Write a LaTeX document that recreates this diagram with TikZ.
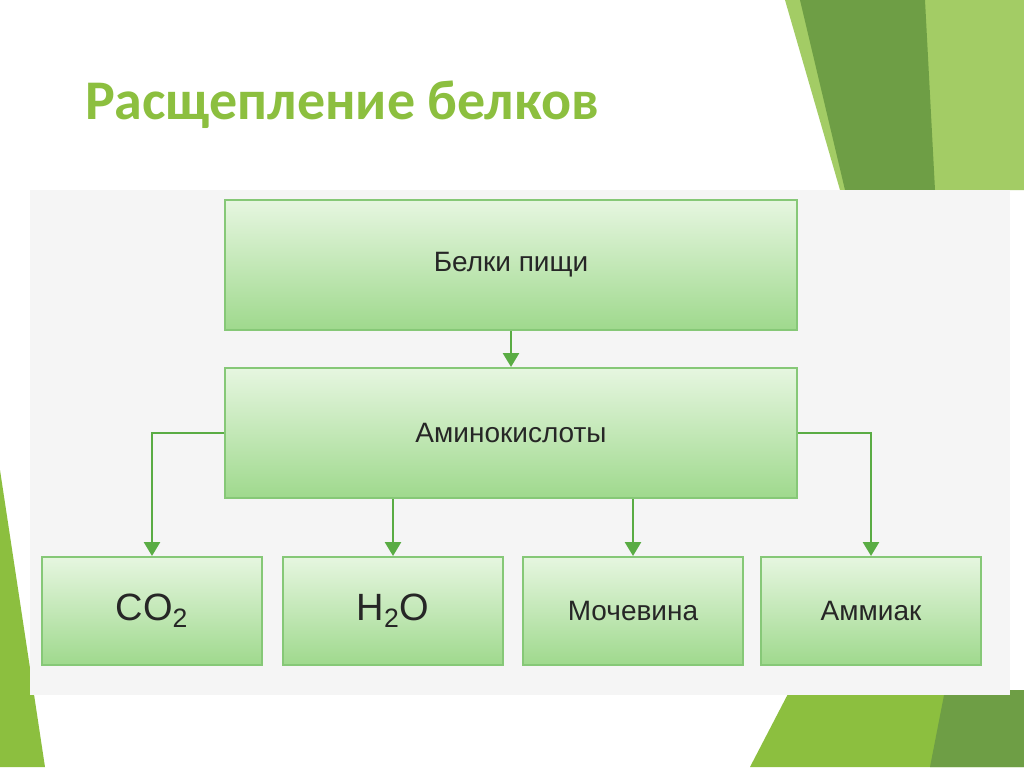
\documentclass[tikz,border=0pt]{standalone}
\usepackage{fontspec}
\setmainfont{Liberation Sans}
\newfontfamily\titlefont{Carlito}
\usetikzlibrary{arrows.meta}
\definecolor{leaf}{HTML}{8CBF3F}
\definecolor{darkleaf}{HTML}{6E9E45}
\definecolor{arrowgreen}{HTML}{5AAC44}
\definecolor{boxline}{HTML}{86C877}
\definecolor{boxtop}{HTML}{E6F6E0}
\definecolor{boxbottom}{HTML}{9FD98D}
\tikzset{
  greenbox/.style={draw=boxline, line width=1pt, top color=boxtop, bottom color=boxbottom, align=center, text=black!85, font=\fontsize{14}{16}\selectfont},
  smallbox/.style={greenbox, minimum width=110pt, minimum height=54pt},
  bigbox/.style={greenbox, minimum width=286pt, minimum height=65pt},
  flow/.style={draw=arrowgreen, line width=1.3pt, -{Triangle[length=7pt,width=8pt]}}
}
\begin{document}
\begin{tikzpicture}[x=0.5pt,y=-0.5pt]
  \useasboundingbox (0,0) rectangle (1024,767);
  \fill[white] (0,0) rectangle (1024,767);
  % slide decorations
  \fill[leaf!80] (785,0) -- (1024,0) -- (1024,190) -- (840,190) -- cycle;
  \fill[darkleaf] (800,0) -- (925,0) -- (935,190) -- (845,190) -- cycle;
  \fill[leaf] (750,767) -- (1024,767) -- (1024,690) -- (790,690) -- cycle;
  \fill[darkleaf] (930,767) -- (1024,767) -- (1024,690) -- (945,690) -- cycle;
  \fill[leaf] (0,470) -- (45,767) -- (0,767) -- cycle;
  \node[anchor=west, text=leaf, font=\titlefont\bfseries\fontsize{28}{30}\selectfont] (title) at (78,105) {Расщепление белков};
  % panel
  \fill[black!4] (30,190) rectangle (1010,695);

  \node[bigbox] (food) at (511,265) {Белки пищи};
  \node[bigbox] (amino) at (511,433) {Аминокислоты};
  \node[smallbox, font=\fontsize{19}{21}\selectfont] (co2) at (152,611) {CO\textsubscript{2}};
  \node[smallbox, font=\fontsize{19}{21}\selectfont] (h2o) at (393,611) {H\textsubscript{2}O};
  \node[smallbox] (urea) at (633,611) {Мочевина};
  \node[smallbox] (ammonia) at (871,611) {Аммиак};

  \draw[flow] (food) -- (amino);
  \draw[flow] (amino.west) -| (co2.north);
  \draw[flow] (amino.east) -| (ammonia.north);
  \draw[flow] (amino.south -| h2o.north) -- (h2o.north);
  \draw[flow] (amino.south -| urea.north) -- (urea.north);
\end{tikzpicture}
\end{document}
